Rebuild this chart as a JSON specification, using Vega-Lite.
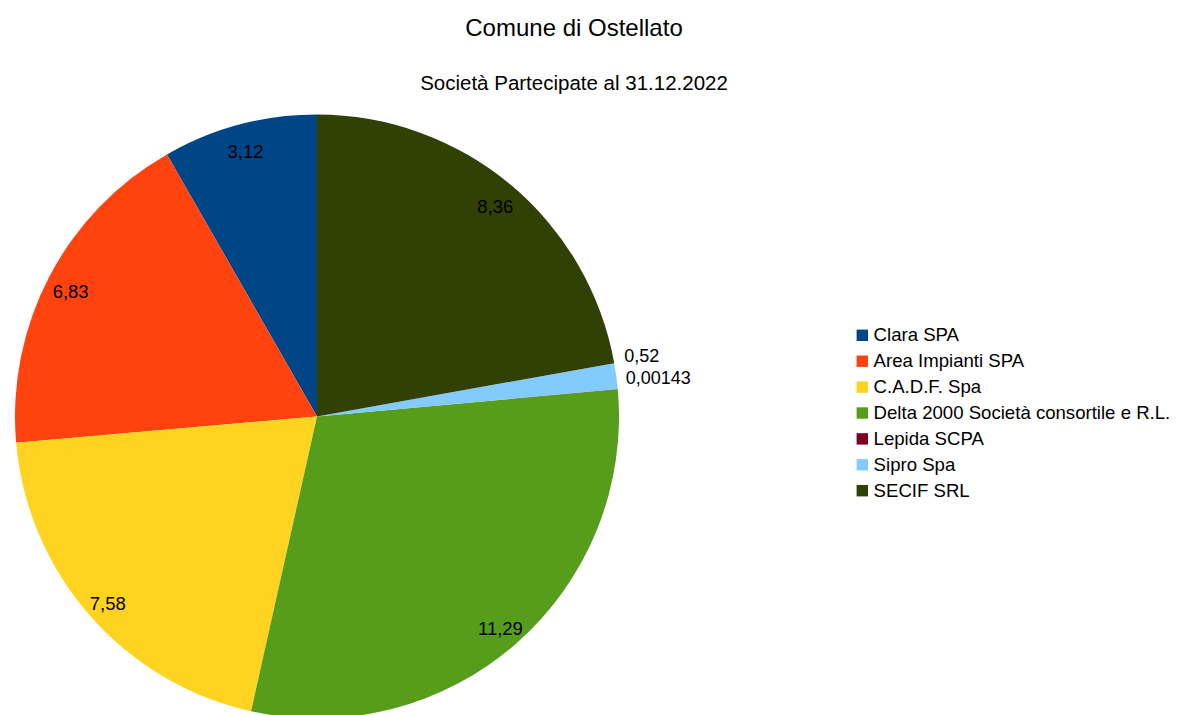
{
  "$schema": "https://vega.github.io/schema/vega-lite/v6.json",
  "width": 634,
  "height": 597,
  "autosize": {"type": "none"},
  "padding": {"left": 0, "top": 118, "right": 544, "bottom": 0},
  "background": "white",
  "title": {
    "text": "Comune di Ostellato",
    "subtitle": "Società Partecipate al 31.12.2022",
    "anchor": "middle",
    "dx": 257,
    "offset": -5,
    "font": "Liberation Sans",
    "subtitleFont": "Liberation Sans",
    "fontSize": 24,
    "subtitleFontSize": 20.5,
    "fontWeight": "normal",
    "color": "#000000",
    "subtitleColor": "#000000",
    "subtitlePadding": 33
  },
  "data": {
    "values": [
      {"idx": 1, "name": "Clara SPA", "value": 3.12, "label": "3,12"},
      {"idx": 2, "name": "Area Impianti SPA", "value": 6.83, "label": "6,83"},
      {"idx": 3, "name": "C.A.D.F. Spa", "value": 7.58, "label": "7,58"},
      {"idx": 4, "name": "Delta 2000 Società consortile e R.L.", "value": 11.29, "label": "11,29"},
      {"idx": 5, "name": "Lepida SCPA", "value": 0.00143, "label": "0,00143"},
      {"idx": 6, "name": "Sipro Spa", "value": 0.52, "label": "0,52"},
      {"idx": 7, "name": "SECIF SRL", "value": 8.36, "label": "8,36"}
    ]
  },
  "encoding": {
    "theta": {"field": "value", "type": "quantitative", "stack": true},
    "order": {"field": "idx", "type": "quantitative", "sort": "descending"}
  },
  "layer": [
    {
      "mark": {"type": "arc", "outerRadius": 302},
      "encoding": {
        "color": {
          "field": "name",
          "type": "nominal",
          "scale": {
            "domain": ["Clara SPA", "Area Impianti SPA", "C.A.D.F. Spa", "Delta 2000 Società consortile e R.L.", "Lepida SCPA", "Sipro Spa", "SECIF SRL"],
            "range": ["#004586", "#ff420e", "#ffd320", "#579d1c", "#7e0021", "#83caff", "#314004"]
          },
          "legend": {
            "title": null,
            "orient": "none",
            "legendX": 853,
            "legendY": 208,
            "padding": 0,
            "symbolType": "square",
            "symbolSize": 130,
            "symbolStrokeWidth": 0,
            "labelFont": "Liberation Sans",
            "labelFontSize": 18.6,
            "labelColor": "#000000",
            "labelOffset": 2,
            "rowPadding": 6.9,
            "labelLimit": 400
          }
        }
      }
    },
    {
      "mark": {"type": "text", "radius": 278, "font": "Liberation Sans", "fontSize": 18.5, "color": "#000000", "align": "center", "baseline": "middle", "dy": 4},
      "encoding": {
        "text": {"condition": {"test": "datum.value < 1", "value": ""}, "field": "label", "type": "nominal"}
      }
    },
    {
      "mark": {"type": "text", "radius": 310, "font": "Liberation Sans", "fontSize": 18, "color": "#000000", "align": "left", "baseline": "middle", "dy": -18},
      "encoding": {
        "text": {"condition": {"test": "datum.name !== 'Sipro Spa'", "value": ""}, "field": "label", "type": "nominal"}
      }
    },
    {
      "mark": {"type": "text", "radius": 310, "font": "Liberation Sans", "fontSize": 18, "color": "#000000", "align": "left", "baseline": "middle", "dy": -9},
      "encoding": {
        "text": {"condition": {"test": "datum.name !== 'Lepida SCPA'", "value": ""}, "field": "label", "type": "nominal"}
      }
    }
  ]
}
